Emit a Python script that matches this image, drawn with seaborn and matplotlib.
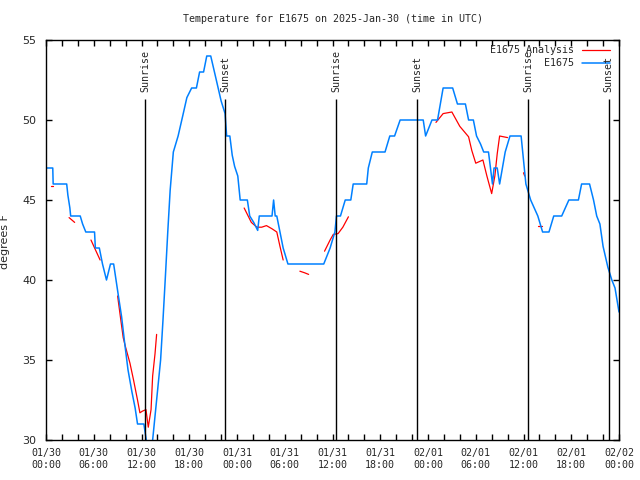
import pandas as pd
import numpy as np
import matplotlib
matplotlib.use('Agg')
import matplotlib.pyplot as plt
import matplotlib.dates as mdates
import seaborn as sns

# E1675 observations (hours after 2025-01-30 00:00 UTC, degrees F)
obs_hours = [0, 0.85, 0.9, 2.6, 2.75, 3.0, 3.1, 4.3, 4.6, 5.0, 6.1, 6.2, 6.7, 7.1, 7.6,
             8.1, 8.5, 8.8, 9.1, 9.5, 9.9, 10.3, 10.8, 11.2, 11.5, 12.3, 12.6, 12.9,
             13.2, 13.4, 13.9, 14.4, 14.7, 15.0, 15.3, 15.6, 16.0, 16.6, 17.2, 17.7,
             18.3, 18.9, 19.3, 19.8, 20.2, 20.7, 21.4, 22.0, 22.5, 22.7, 23.1, 23.4,
             23.7, 24.1, 24.4, 25.3, 25.6, 26.1, 26.6, 26.8, 28.4, 28.6, 28.8, 29.0,
             29.4, 29.8, 30.4, 34.9, 35.3, 35.7, 36.3, 36.5, 37.0, 37.6, 38.3, 38.6,
             40.3, 40.5, 41.0, 42.6, 43.2, 43.8, 44.5, 47.4, 47.7, 48.5, 49.2, 49.9,
             51.1, 51.7, 52.7, 53.1, 53.7, 54.1, 54.6, 55.0, 55.6, 56.1, 56.3, 56.7,
             57.0, 57.7, 58.3, 59.7, 60.3, 60.9, 61.8, 62.4, 63.2, 63.8, 64.8, 65.7,
             66.9, 67.3, 68.3, 68.8, 69.2, 69.6, 70.0, 70.6, 71.1, 71.5, 72.0]
obs_temps = [47, 47, 46, 46, 45.3, 44.5, 44, 44, 43.5, 43, 43, 42, 42, 41, 40,
             41, 41, 40, 39, 37.7, 36, 34.4, 33, 32, 31, 31, 30, 29,
             29, 30, 32.5, 35, 37.5, 40.2, 43, 45.6, 48, 49, 50.3, 51.4,
             52, 52, 53, 53, 54, 54, 52.5, 51.2, 50.4, 49, 49, 47.8,
             47.1, 46.5, 45, 45, 44, 43.6, 43.1, 44, 44, 45, 44, 44,
             43, 42, 41, 41, 41.5, 42, 43, 44, 44, 45, 45, 46,
             46, 47, 48, 48, 49, 49, 50, 50, 49, 50, 50, 52,
             52, 51, 51, 50, 50, 49, 48.5, 48, 48, 46, 47, 47,
             46, 48, 49, 49, 46, 45, 44, 43, 43, 44, 44, 45,
             45, 46, 46, 45, 44, 43.5, 42.1, 40.8, 40, 39.5, 38]

# E1675 analysis, in separate pieces
ana_seg = [1, 1, 2, 2, 3, 3, 3,
           4, 4, 4, 4, 4, 4, 4, 4, 4, 4, 4, 4, 4, 4, 4,
           5, 5, 5, 5, 5, 5, 5, 5, 5,
           6, 6, 6,
           7, 7, 7, 7, 7, 7,
           8, 8, 8, 8, 8, 8, 8, 8, 8, 8, 8, 8, 8, 8,
           9, 9, 10, 10]
ana_hours = [0.6, 0.9, 2.9, 3.6, 5.65, 6.2, 6.8,
             9.0, 9.4, 9.7, 10.0, 10.55, 11.0, 11.5, 11.8, 12.1, 12.56, 12.85, 13.2, 13.4, 13.7, 13.9,
             24.9, 25.8, 26.5, 27.1, 27.7, 28.4, 29.0, 29.4, 29.8,
             31.9, 32.5, 33.0,
             35.0, 35.7, 36.1, 36.7, 37.3, 38.0,
             49.0, 49.9, 51.0, 52.0, 53.1, 53.5, 54.0, 54.9, 55.4, 56.0, 56.4, 56.7, 57.0, 58.0,
             60.0, 60.15, 61.8, 62.3]
ana_temps = [45.9, 45.9, 43.9, 43.6, 42.5, 41.9, 41.25,
             39, 37.5, 36.4, 35.8, 34.8, 33.75, 32.5, 31.7, 31.8, 31.9, 30.8, 31.9, 34, 35.4, 36.6,
             44.5, 43.6, 43.3, 43.3, 43.4, 43.2, 43, 42.1, 41.25,
             40.55, 40.45, 40.35,
             41.8, 42.5, 42.85, 42.9, 43.3, 43.95,
             49.85, 50.4, 50.5, 49.6, 48.95, 48.1, 47.3, 47.5, 46.5, 45.4, 46.5, 47.9, 49, 48.9,
             46.7, 46.5, 43.4, 43.4]

sun_hours = [12.48, 22.53, 36.48, 46.66, 60.57, 70.71]
sun_labels = ['Sunrise', 'Sunset', 'Sunrise', 'Sunset', 'Sunrise', 'Sunset']

start = pd.Timestamp('2025-01-30 00:00')
obs = pd.DataFrame({'time': start + pd.to_timedelta(obs_hours, unit='h'), 'temp': obs_temps})
ana = pd.DataFrame({'time': start + pd.to_timedelta(ana_hours, unit='h'), 'temp': ana_temps,
                    'seg': ana_seg})
sun_times = start + pd.to_timedelta(sun_hours, unit='h')

sns.set_style('ticks')
plt.rcParams['font.family'] = ['DejaVu Sans Mono']

fig = plt.figure(figsize=(6.4, 4.8), dpi=100)
ax = fig.add_axes([46 / 640, 40 / 480, 573 / 640, 400 / 480])

sns.lineplot(data=ana, x='time', y='temp', units='seg', estimator=None,
             color='#ff0000', linewidth=0.9, ax=ax, legend=False)
sns.lineplot(data=obs, x='time', y='temp', estimator=None,
             color='#0080ff', linewidth=1.1, ax=ax, legend=False)

ax.vlines(sun_times, 30, 51.3, color='black', linewidth=1.0)
for t, lab in zip(sun_times, sun_labels):
    ax.text(t, 51.72, lab, rotation=90, ha='center', va='bottom', fontsize=7.2)

ax.set_xlim(start, start + pd.Timedelta(hours=72))
ax.set_ylim(30, 55)
ax.xaxis.set_major_locator(mdates.HourLocator(byhour=[0, 6, 12, 18]))
ax.xaxis.set_minor_locator(mdates.HourLocator(interval=2))
ax.xaxis.set_major_formatter(mdates.DateFormatter('%m/%d\n%H:%M'))
ax.set_yticks([30, 35, 40, 45, 50, 55])

ax.tick_params(axis='both', which='both', direction='in', top=True, right=True,
               width=1.0, color='black')
ax.tick_params(axis='both', which='major', length=4)
ax.tick_params(axis='x', which='minor', length=4)
ax.tick_params(axis='x', which='major', labelsize=7.2, pad=6)
ax.tick_params(axis='y', which='major', labelsize=8, pad=7)
for lab in ax.get_yticklabels():
    lab.set_family('DejaVu Sans')
for lab in ax.get_xticklabels():
    lab.set_linespacing(1.15)

for s in ax.spines.values():
    s.set_color('black')
    s.set_linewidth(1.0)

ax.set_xlabel('')
ax.set_ylabel('degrees F', family='DejaVu Sans', fontsize=8)
ax.yaxis.set_label_coords(-0.063, 0.495)
fig.text(0.52, 1 - 19 / 480, 'Temperature for E1675 on 2025-Jan-30 (time in UTC)',
         ha='center', va='center', fontsize=7.2)

# key, right-aligned like the original
ax.text(0.922, 0.975, 'E1675 Analysis', transform=ax.transAxes, ha='right', va='center', fontsize=7.2)
ax.plot([0.935, 0.984], [0.975, 0.975], transform=ax.transAxes, color='#ff0000', linewidth=0.9)
ax.text(0.922, 0.9425, 'E1675', transform=ax.transAxes, ha='right', va='center', fontsize=7.2)
ax.plot([0.935, 0.984], [0.9425, 0.9425], transform=ax.transAxes, color='#0080ff', linewidth=1.1)

fig.savefig('out.png', dpi=100)
